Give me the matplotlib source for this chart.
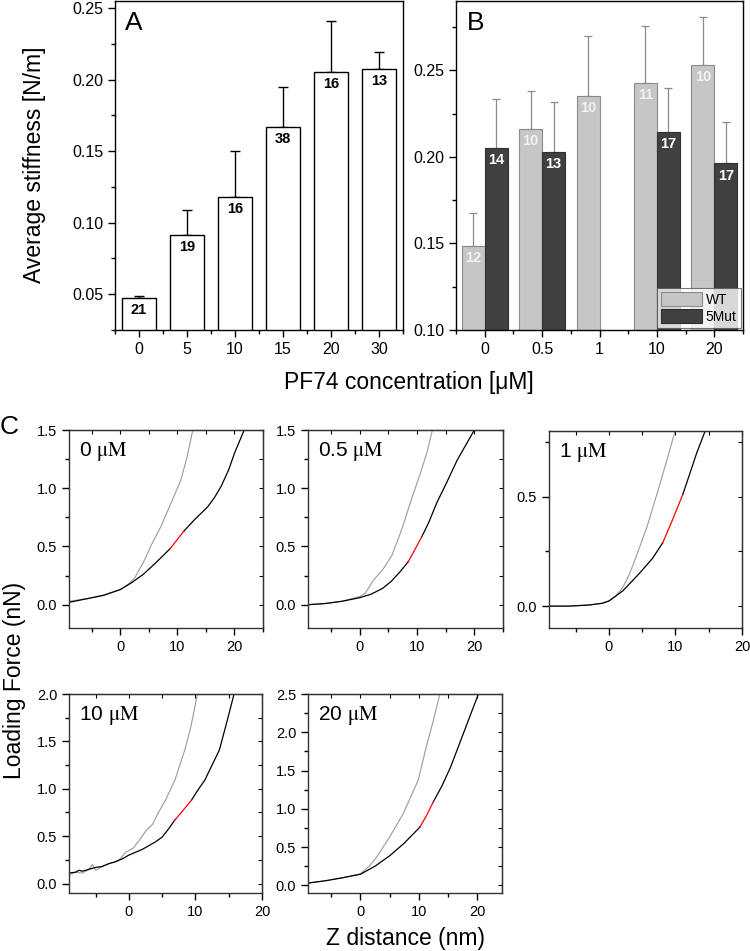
import numpy as np
import matplotlib
matplotlib.use("Agg")
import matplotlib.pyplot as plt
from matplotlib.ticker import MultipleLocator

plt.rcParams['font.family'] = ['Liberation Sans', 'DejaVu Sans']
plt.rcParams['mathtext.fontset'] = 'stix'

# -------------------------------------------
# Daten Panel A
# -------------------------------------------
conc_a = ["0", "5", "10", "15", "20", "30"]
stiff_a = [0.0474, 0.0917, 0.1183, 0.167, 0.2055, 0.2078]
err_a = [0.0016, 0.0175, 0.0317, 0.028, 0.0356, 0.0117]
n_a = ["21", "19", "16", "38", "16", "13"]

# -------------------------------------------
# Daten Panel B
# -------------------------------------------
conc_b = ["0", "0.5", "1", "10", "20"]
wt_b = [0.1484, 0.216, 0.2352, 0.2429, 0.2533]
wt_err = [0.0189, 0.022, 0.0344, 0.0325, 0.0273]
wt_n = ["12", "10", "10", "11", "10"]
mut_b = [0.2052, 0.2029, np.nan, 0.2142, 0.1962]
mut_err = [0.0281, 0.029, np.nan, 0.0256, 0.024]
mut_n = ["14", "13", "", "17", "17"]

# -------------------------------------------
# Daten Panel C (Kraftkurven)
# -------------------------------------------
c_labels = ["0", "0.5", "1", "10", "20"]

c1_gray_x = [-9, -6, -3, 0, 1.5, 2.5, 4, 5.6, 7.1, 8.5, 10.6, 11.7, 12.7]
c1_gray_y = [0.03, 0.05, 0.08, 0.13, 0.18, 0.23, 0.36, 0.53, 0.67, 0.83, 1.07, 1.27, 1.5]
c1_black_x = [-9, -6, -3, 0, 2, 4, 6, 8.7]
c1_black_y = [0.02, 0.05, 0.08, 0.13, 0.19, 0.26, 0.35, 0.48]
c1_red_x = [8.7, 10, 11.1]
c1_red_y = [0.48, 0.56, 0.63]
c1_tail_x = [11.1, 13, 15.3, 16.5, 17.7, 19, 20, 21.7]
c1_tail_y = [0.63, 0.73, 0.84, 0.92, 1.02, 1.16, 1.3, 1.5]

c2_gray_x = [-9, -6, -3, 0, 1, 2.4, 4, 5.6, 7, 7.7, 9, 10.6, 11.7, 12.7]
c2_gray_y = [0.0, 0.01, 0.03, 0.07, 0.1, 0.21, 0.3, 0.42, 0.6, 0.7, 0.9, 1.13, 1.3, 1.5]
c2_black_x = [-9, -6, -3, 0, 2, 4, 5.5, 7, 8.5]
c2_black_y = [0.0, 0.01, 0.03, 0.06, 0.09, 0.14, 0.2, 0.28, 0.37]
c2_red_x = [8.5, 9.6, 10.8]
c2_red_y = [0.37, 0.47, 0.58]
c2_tail_x = [10.8, 12, 13.5, 15, 17, 18.5, 20]
c2_tail_y = [0.58, 0.7, 0.88, 1.03, 1.24, 1.37, 1.5]

c3_gray_x = [-9, -6, -3, -1, 0.15, 1, 2.1, 3, 3.9, 5.7, 7.2, 8.65, 9.9]
c3_gray_y = [0.0, 0.0, 0.005, 0.013, 0.026, 0.045, 0.086, 0.14, 0.21, 0.36, 0.51, 0.66, 0.795]
c3_black_x = [-9, -6, -3, -1, 0, 2.1, 4.6, 6.6, 8.1]
c3_black_y = [0.0, 0.0, 0.005, 0.013, 0.023, 0.07, 0.15, 0.22, 0.29]
c3_red_x = [8.1, 9.5, 11.1]
c3_red_y = [0.29, 0.39, 0.51]
c3_tail_x = [11.1, 12.1, 13.2, 14.4]
c3_tail_y = [0.51, 0.6, 0.7, 0.795]

c4_gray_x = [-8.7, -8, -7, -6, -5.5, -5, -4, -3, -2, -1.3, -0.5, 0.6, 1.5, 2.6,
             3.5, 4.6, 5.5, 6.9, 8.4, 9.3, 10.3]
c4_gray_y = [0.10, 0.12, 0.11, 0.15, 0.20, 0.14, 0.18, 0.21, 0.23, 0.26, 0.33, 0.37,
             0.45, 0.56, 0.62, 0.77, 0.88, 1.09, 1.41, 1.65, 2.0]
c4_black_x = [-9, -8, -7.5, -7, -6, -5, -4, -3, -2, -1, 0, 1, 2, 3, 4, 5, 6, 6.9]
c4_black_y = [0.11, 0.12, 0.14, 0.13, 0.15, 0.17, 0.18, 0.21, 0.23, 0.26, 0.30, 0.33,
              0.36, 0.40, 0.44, 0.49, 0.58, 0.67]
c4_red_x = [6.9, 8, 9.4]
c4_red_y = [0.67, 0.76, 0.88]
c4_tail_x = [9.4, 10.5, 11.4, 12.5, 13.6, 14.7, 15.8]
c4_tail_y = [0.88, 1.0, 1.09, 1.25, 1.41, 1.7, 2.0]

c5_gray_x = [-9, -6, -3, 0, 1.5, 2.7, 5, 7.3, 9.9, 11.3, 12.5, 13.6]
c5_gray_y = [0.03, 0.06, 0.1, 0.15, 0.25, 0.36, 0.63, 0.93, 1.37, 1.81, 2.15, 2.49]
c5_black_x = [-9, -6, -3, 0, 2.5, 5, 7.5, 10.2]
c5_black_y = [0.03, 0.06, 0.1, 0.145, 0.25, 0.385, 0.55, 0.76]
c5_red_x = [10.2, 11.4, 12.5]
c5_red_y = [0.76, 0.92, 1.09]
c5_tail_x = [12.5, 14, 15.5, 17, 18.5, 20.2]
c5_tail_y = [1.09, 1.3, 1.55, 1.85, 2.15, 2.49]

curves = [
    (c1_gray_x, c1_gray_y, c1_black_x, c1_black_y, c1_red_x, c1_red_y, c1_tail_x, c1_tail_y),
    (c2_gray_x, c2_gray_y, c2_black_x, c2_black_y, c2_red_x, c2_red_y, c2_tail_x, c2_tail_y),
    (c3_gray_x, c3_gray_y, c3_black_x, c3_black_y, c3_red_x, c3_red_y, c3_tail_x, c3_tail_y),
    (c4_gray_x, c4_gray_y, c4_black_x, c4_black_y, c4_red_x, c4_red_y, c4_tail_x, c4_tail_y),
    (c5_gray_x, c5_gray_y, c5_black_x, c5_black_y, c5_red_x, c5_red_y, c5_tail_x, c5_tail_y),
]

W, H = 750, 951
fig = plt.figure(figsize=(7.5, 9.51), dpi=100)


def ax_px(l, t, r, b):
    return fig.add_axes([l / W, 1 - b / H, (r - l) / W, (b - t) / H])


def style(ax, fs=11.5):
    for s in ax.spines.values():
        s.set_linewidth(1.0)
    ax.tick_params(which='major', direction='out', length=5, width=1, labelsize=fs)
    ax.tick_params(which='minor', direction='out', length=3, width=1)


# -------------------------------------------
# Panel A
# -------------------------------------------
axA = ax_px(115, 1, 403, 330)
xa = np.arange(len(conc_a))
axA.bar(xa, stiff_a, width=0.7, color='white', edgecolor='black', linewidth=1, zorder=2)
axA.errorbar(xa, stiff_a, yerr=[np.zeros(len(xa)), err_a], fmt='none',
             ecolor='black', elinewidth=1, capsize=3.5, capthick=1, zorder=1)
for xi, v, n in zip(xa, stiff_a, n_a):
    axA.text(xi, v - 0.0035, n, ha='center', va='top', fontsize=10.5, fontweight='bold')
axA.set_xlim(-0.5, 5.5)
axA.set_ylim(0.025, 0.255)
axA.set_xticks(xa)
axA.set_xticklabels(conc_a)
axA.xaxis.set_minor_locator(MultipleLocator(0.5))
axA.yaxis.set_major_locator(MultipleLocator(0.05))
axA.yaxis.set_minor_locator(MultipleLocator(0.025))
style(axA)
axA.text(0.035, 0.933, "A", transform=axA.transAxes, fontsize=19, ha='left', va='center')
fig.text(35 / W, 1 - 165 / H, "Average stiffness [N/m]", rotation=90, fontsize=16.5,
         ha='center', va='center')

# -------------------------------------------
# Panel B
# -------------------------------------------
axB = ax_px(456, 1, 743, 330)
xb = np.arange(len(conc_b))
axB.bar(xb - 0.2, wt_b, width=0.4, color='#c6c6c6', edgecolor='#8a8a8a', linewidth=0.8,
        label='WT', zorder=2)
axB.bar(xb + 0.2, mut_b, width=0.4, color='#404040', edgecolor='#303030', linewidth=0.8,
        label='5Mut', zorder=2)
axB.errorbar(xb - 0.2, wt_b, yerr=[np.zeros(len(xb)), wt_err], fmt='none',
             ecolor='#8a8a8a', elinewidth=0.9, capsize=3, capthick=0.9, zorder=1)
axB.errorbar(xb + 0.2, mut_b, yerr=[np.zeros(len(xb)), mut_err], fmt='none',
             ecolor='#8a8a8a', elinewidth=0.9, capsize=3, capthick=0.9, zorder=1)
for xi, v, n in zip(xb, wt_b, wt_n):
    axB.text(xi - 0.2, v - 0.003, n, ha='center', va='top', fontsize=10.5,
             fontweight='bold', color='#f2f2f2')
for xi, v, n in zip(xb, mut_b, mut_n):
    if n:
        axB.text(xi + 0.2, v - 0.003, n, ha='center', va='top', fontsize=10.5,
                 fontweight='bold', color='white')
axB.set_xlim(-0.5, 4.5)
axB.set_ylim(0.10, 0.29)
axB.set_xticks(xb)
axB.set_xticklabels(conc_b)
axB.xaxis.set_minor_locator(MultipleLocator(0.5))
axB.yaxis.set_major_locator(MultipleLocator(0.05))
axB.yaxis.set_minor_locator(MultipleLocator(0.025))
style(axB)
axB.text(0.038, 0.933, "B", transform=axB.transAxes, fontsize=19, ha='left', va='center')
leg = axB.legend(loc='lower right', fontsize=10, frameon=True, fancybox=False,
                 borderpad=0.3, handlelength=3.0, handleheight=1.1, labelspacing=0.2,
                 handletextpad=0.25, borderaxespad=0.15)
leg.get_frame().set_edgecolor('#555555')
leg.get_frame().set_linewidth(0.8)

fig.text(409 / W, 1 - 382 / H, "PF74 concentration [μM]", fontsize=16.5,
         ha='center', va='center')

# -------------------------------------------
# Panel C
# -------------------------------------------
c_boxes = [(69, 430, 263, 628), (308, 430, 503, 628), (549, 431, 742, 628),
           (69, 694, 262, 893), (308, 694, 502, 893)]
c_xlims = [(-9, 25), (-9, 25), (-9, 20), (-9, 20), (-9, 24.3)]
c_ylims = [(-0.2, 1.5), (-0.2, 1.5), (-0.1, 0.8), (-0.1, 2.0), (-0.1, 2.5)]

for box, xl, yl, lab, cv in zip(c_boxes, c_xlims, c_ylims, c_labels, curves):
    ax = ax_px(*box)
    gx, gy, bx, by, rx, ry, tx, ty = cv
    ax.plot(gx, gy, color='#9a9a9a', lw=0.8)
    ax.plot(bx, by, color='black', lw=0.9)
    ax.plot(tx, ty, color='black', lw=0.9)
    ax.plot(rx, ry, color='red', lw=0.9)
    ax.set_xlim(*xl)
    ax.set_ylim(*yl)
    ax.xaxis.set_major_locator(MultipleLocator(10))
    ax.xaxis.set_minor_locator(MultipleLocator(5))
    ax.yaxis.set_major_locator(MultipleLocator(0.5))
    ax.yaxis.set_minor_locator(MultipleLocator(0.25))
    style(ax, fs=10.5)
    for s in ax.spines.values():
        s.set_color('#333333')
    # Ticks nach innen oben und rechts
    top = ax.secondary_xaxis('top')
    top.xaxis.set_major_locator(MultipleLocator(10))
    top.xaxis.set_minor_locator(MultipleLocator(5))
    top.tick_params(which='both', direction='in', labeltop=False, length=3, width=0.8)
    right = ax.secondary_yaxis('right')
    right.yaxis.set_major_locator(MultipleLocator(0.5))
    right.yaxis.set_minor_locator(MultipleLocator(0.25))
    right.tick_params(which='both', direction='in', labelright=False, length=3, width=0.8)
    ax.text(0.05, 0.89, lab + r" $\mathrm{\mu M}$", transform=ax.transAxes,
            fontsize=15, ha='left', va='center')

fig.text(0, 1 - 427 / H, "C", fontsize=19, ha='left', va='center')
fig.text(15 / W, 1 - 680 / H, "Loading Force (nN)", rotation=90, fontsize=16.5,
         ha='center', va='center')
fig.text(405 / W, 1 - 938 / H, "Z distance (nm)", fontsize=16.5, ha='center', va='center')

fig.savefig("out.png", dpi=100)
